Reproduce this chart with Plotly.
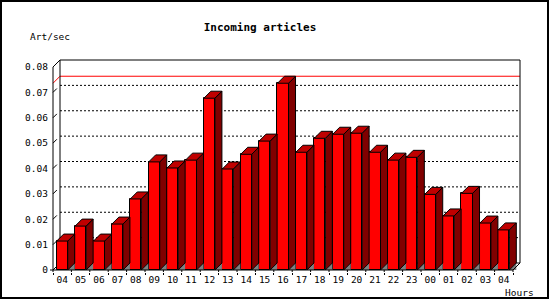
import plotly.graph_objects as go

# ---------------- data ----------------
hour_labels = ['04', '05', '06', '07', '08', '09', '10', '11', '12', '13', '14', '15',
               '16', '17', '18', '19', '20', '21', '22', '23', '00', '01', '02', '03', '04']
art_per_sec = [0.0114, 0.0173, 0.0114, 0.0181, 0.0280, 0.0426, 0.0402, 0.0433, 0.0677,
               0.0398, 0.0456, 0.0508, 0.0736, 0.0464, 0.0519, 0.0535, 0.0539, 0.0464,
               0.0433, 0.0444, 0.0298, 0.0213, 0.0302, 0.0185, 0.0158]
y_tick_vals = [0, 0.01, 0.02, 0.03, 0.04, 0.05, 0.06, 0.07, 0.08]
y_tick_text = ['0', '0.01', '0.02', '0.03', '0.04', '0.05', '0.06', '0.07', '0.08']
title_text = 'Incoming articles'
y_title = 'Art/sec'
x_title = 'Hours'

# ---------------- geometry (pixels) ----------------
W, H = 550, 300
FX0, FY0 = 53, 270          # front origin pixel
PX_X = 18.4                 # px per category
PX_Y = 2537.5               # px per unit value
DEPTH = 7                   # 3-D depth in px
L, R, T, B = 49, 25, 56, 28
Y_MAX = 0.08
BAR_W = 0.6

n = len(art_per_sec)
pos = list(range(n))
dx = DEPTH / PX_X
dy = DEPTH / PX_Y
x_lo = -0.5
x_hi = n - 0.5

xr0 = x_lo - (FX0 - L) / PX_X
xr1 = x_lo + (W - R - FX0) / PX_X
yr0 = -(H - B - FY0) / PX_Y
yr1 = (FY0 - T) / PX_Y

plot_w = W - L - R
plot_h = H - T - B


def pxx(p):
    return (p - L) / plot_w


def pxy(p):
    return (H - B - p) / plot_h


fig = go.Figure()

# gray floor triangles
gx, gy = [], []
for i, v in zip(pos, art_per_sec):
    xr = i + BAR_W / 2
    gx += [xr, xr + dx, xr + dx, xr, None]
    gy += [0, dy, 0, 0, None]
fig.add_trace(go.Scatter(x=gx, y=gy, mode='lines', fill='toself', fillcolor='#808080',
                         line=dict(width=0, color='#808080'), hoverinfo='skip', showlegend=False))

# side faces
sx, sy = [], []
for i, v in zip(pos, art_per_sec):
    xr = i + BAR_W / 2
    sx += [xr, xr + dx, xr + dx, xr, xr, None]
    sy += [0, dy, v + dy, v, 0, None]
fig.add_trace(go.Scatter(x=sx, y=sy, mode='lines', fill='toself', fillcolor='#800000',
                         line=dict(width=1, color='black'), hoverinfo='skip', showlegend=False))

# top faces
tx, ty = [], []
for i, v in zip(pos, art_per_sec):
    xl = i - BAR_W / 2
    xr = i + BAR_W / 2
    tx += [xl, xl + dx, xr + dx, xr, xl, None]
    ty += [v, v + dy, v + dy, v, v, None]
fig.add_trace(go.Scatter(x=tx, y=ty, mode='lines', fill='toself', fillcolor='#C00000',
                         line=dict(width=1, color='black'), hoverinfo='skip', showlegend=False))

# front faces
fig.add_trace(go.Bar(x=pos, y=art_per_sec, width=BAR_W,
                     marker=dict(color='#FF0000', line=dict(color='black', width=1)),
                     hoverinfo='skip', showlegend=False))

shapes = []


def line(x0, y0, x1, y1, color='black', dash=None, layer='below'):
    d = dict(type='line', xref='x', yref='y', x0=x0, y0=y0, x1=x1, y1=y1,
             line=dict(color=color, width=1), layer=layer)
    if dash:
        d['line']['dash'] = dash
    shapes.append(d)


# dotted grid on back wall
for t in y_tick_vals[1:-1]:
    line(x_lo + dx, t + dy, x_hi + dx, t + dy, dash='2px,2px')
    line(x_lo, t, x_lo + dx * 0.55, t + dy * 0.55)

# max line
vmax = max(art_per_sec)
line(x_lo, vmax, x_lo + dx, vmax + dy, color='#FF0000')
line(x_lo + dx, vmax + dy, x_hi + dx, vmax + dy, color='#FF0000')

# walls / frame
line(x_lo, 0, x_lo, Y_MAX)
line(x_lo, Y_MAX, x_lo + dx, Y_MAX + dy)
line(x_lo + dx, dy, x_lo + dx, Y_MAX + dy)
line(x_lo + dx, Y_MAX + dy, x_hi + dx, Y_MAX + dy)
line(x_hi + dx, dy, x_hi + dx, Y_MAX + dy)
line(x_lo + dx, dy, x_hi + dx, dy)
line(x_lo, 0, x_lo + dx, dy)
line(x_lo, 0, x_hi, 0, layer='above')
line(x_hi, 0, x_hi + dx, dy, layer='above')
# zero tick
line(x_lo - 3 / PX_X, 0, x_lo, 0)
# x tick marks (upper part inside plot)
for k in range(n + 1):
    line(x_lo + k, 0, x_lo + k, yr0)

# outer border
shapes.append(dict(type='rect', xref='paper', yref='paper',
                   x0=pxx(1), x1=pxx(548), y0=pxy(298), y1=pxy(1),
                   line=dict(color='black', width=2), fillcolor='rgba(0,0,0,0)', layer='above'))

font = dict(family='DejaVu Sans Mono', size=9.5, color='black')

fig.update_layout(
    width=W, height=H,
    margin=dict(l=L, r=R, t=T, b=B, pad=0),
    paper_bgcolor='white', plot_bgcolor='white',
    shapes=shapes,
    bargap=0,
    title=dict(text='<b>' + title_text + '</b>', x=260 / W, xref='container', xanchor='center',
               y=1 - 27 / H, yref='container', yanchor='middle',
               font=dict(family='DejaVu Sans Mono', size=11, color='black')),
    xaxis=dict(range=[xr0, xr1], tickmode='array', tickvals=pos, ticktext=hour_labels,
               showgrid=False, zeroline=False, showline=False, ticks='', tickfont=font,
               minor=dict(tick0=x_lo, dtick=1, ticks='outside', ticklen=2, tickcolor='black',
                          tickwidth=1, showgrid=False)),
    yaxis=dict(range=[yr0, yr1], tickmode='array', tickvals=y_tick_vals, ticktext=y_tick_text,
               showgrid=False, zeroline=False, showline=False, ticks='', tickfont=font),
    annotations=[
        dict(text=y_title, xref='paper', yref='paper', x=pxx(28), y=pxy(37),
             xanchor='left', yanchor='middle', showarrow=False, font=font),
        dict(text=x_title, xref='paper', yref='paper', x=pxx(519), y=pxy(292),
             xanchor='center', yanchor='middle', showarrow=False, font=font),
    ],
)

fig.write_html('out.html')
